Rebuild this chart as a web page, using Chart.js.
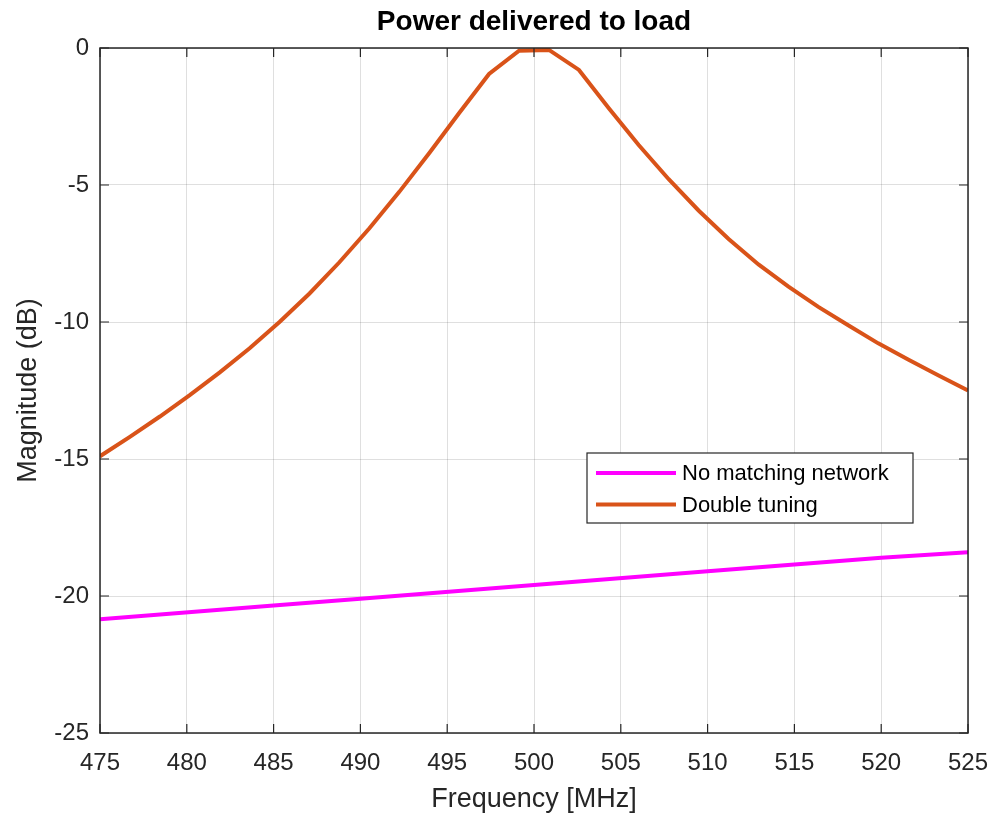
<!DOCTYPE html>
<html>
<head>
<meta charset="utf-8">
<script src="https://cdn.jsdelivr.net/npm/chart.js@4/dist/chart.umd.min.js"></script>
<style>
  html, body { margin: 0; padding: 0; background: #fff; }
  #wrap { width: 993px; height: 821px; }
</style>
</head>
<body>
<div id="wrap"><canvas id="grafico" width="993" height="821"></canvas></div>
<script>
// frequencias (MHz) amostradas na curva laranja
const freqs = [475.00, 476.72, 478.45, 480.17, 481.90, 483.62, 485.34, 487.07, 488.79, 490.52,
  492.24, 493.97, 495.69, 497.41, 499.14, 500.86, 502.59, 504.31, 506.03, 507.76,
  509.48, 511.21, 512.93, 514.66, 516.38, 518.10, 519.83, 521.55, 523.28, 525.00]
const duplaSintonia = [-14.9, -14.19, -13.45, -12.67, -11.84, -10.96, -10.0, -8.96, -7.82, -6.58,
  -5.25, -3.83, -2.37, -0.95, -0.1, -0.07, -0.8, -2.2, -3.54, -4.79,
  -5.93, -6.97, -7.9, -8.71, -9.45, -10.12, -10.78, -11.37, -11.94, -12.5]

// curva sem rede de casamento (quase reta)
const freqsSemRede = [475, 485, 490, 500, 510, 520, 525]
const semRede = [-20.85, -20.35, -20.1, -19.6, -19.1, -18.6, -18.4]

const ticksX = [475, 480, 485, 490, 495, 500, 505, 510, 515, 520, 525]
const ticksY = [-25, -20, -15, -10, -5, 0]

const legendas = ['No matching network', 'Double tuning']
const titulo = 'Power delivered to load'
const tituloX = 'Frequency [MHz]'
const tituloY = 'Magnitude (dB)'

const fonte = "'Liberation Sans', Arial, Helvetica, sans-serif"
const corEixo = '#262626'

function pares(xs, ys) {
  return xs.map((x, i) => ({ x: x, y: ys[i] }))
}

// titulo centrado no eixo, caixa, marcas internas e legenda no estilo do MATLAB
const caixaPlugin = {
  id: 'caixa',
  afterDraw(chart) {
    const ctx = chart.ctx
    const a = chart.chartArea
    const sx = chart.scales.x
    const sy = chart.scales.y
    ctx.save()

    ctx.fillStyle = '#000'
    ctx.font = 'bold 28px ' + fonte
    ctx.textAlign = 'center'
    ctx.textBaseline = 'middle'
    ctx.fillText(titulo, (a.left + a.right) / 2, a.top - 26)

    ctx.strokeStyle = corEixo
    ctx.lineWidth = 1.5
    ctx.strokeRect(a.left, a.top, a.right - a.left, a.bottom - a.top)
    ctx.lineWidth = 1.2
    ctx.beginPath()
    ticksX.forEach(v => {
      const px = sx.getPixelForValue(v)
      ctx.moveTo(px, a.bottom); ctx.lineTo(px, a.bottom - 9)
      ctx.moveTo(px, a.top); ctx.lineTo(px, a.top + 9)
    })
    ticksY.forEach(v => {
      const py = sy.getPixelForValue(v)
      ctx.moveTo(a.left, py); ctx.lineTo(a.left + 9, py)
      ctx.moveTo(a.right, py); ctx.lineTo(a.right - 9, py)
    })
    ctx.stroke()

    // legenda
    const lx = a.left + 487, ly = a.top + 405, lw = 326, lh = 70
    ctx.fillStyle = '#fff'
    ctx.fillRect(lx, ly, lw, lh)
    ctx.strokeStyle = corEixo
    ctx.lineWidth = 1.2
    ctx.strokeRect(lx, ly, lw, lh)
    ctx.font = '22px ' + fonte
    ctx.textBaseline = 'middle'
    ctx.textAlign = 'left'
    chart.data.datasets.forEach((ds, i) => {
      const yy = ly + 20 + i * 31.5
      ctx.strokeStyle = ds.borderColor
      ctx.lineWidth = 4
      ctx.beginPath()
      ctx.moveTo(lx + 9, yy); ctx.lineTo(lx + 89, yy)
      ctx.stroke()
      ctx.fillStyle = '#000'
      ctx.fillText(ds.label, lx + 95, yy + 1)
    })
    ctx.restore()
  }
}

var grafico = document.getElementById('grafico').getContext('2d')
var dados = {
  type: 'line',
  data: {
    datasets: [{
        label: legendas[0],
        data: pares(freqsSemRede, semRede),
        borderColor: '#FF00FF',
        backgroundColor: '#FF00FF',
        borderWidth: 4,
        pointRadius: 0,
        tension: 0
      },
      {
        label: legendas[1],
        data: pares(freqs, duplaSintonia),
        borderColor: '#D95319',
        backgroundColor: '#D95319',
        borderWidth: 4,
        pointRadius: 0,
        tension: 0
    }]
  },
  options: {
    responsive: false,
    animation: false,
    layout: { padding: { left: 0, right: 25, top: 48, bottom: 0 } },
    plugins: {
      legend: { display: false },
      tooltip: { enabled: false },
      title: { display: false }
    },
    scales: {
      x: {
        type: 'linear',
        min: 475,
        max: 525,
        afterFit: (s) => { s.height = 88; s.paddingLeft = 0; s.paddingRight = 0 },
        afterBuildTicks: (s) => { s.ticks = ticksX.map(v => ({ value: v })) },
        grid: { color: 'rgba(38,38,38,0.15)', lineWidth: 1, drawTicks: false },
        border: { display: false },
        ticks: {
          color: corEixo,
          font: { family: fonte, size: 24 },
          padding: 16,
          maxRotation: 0,
          autoSkip: false
        },
        title: {
          display: true,
          text: tituloX,
          color: corEixo,
          font: { family: fonte, size: 27 },
          padding: { top: 0, bottom: 5 }
        }
      },
      y: {
        min: -25,
        max: 0,
        afterFit: (s) => { s.width = 100; s.paddingTop = 0; s.paddingBottom = 0 },
        afterBuildTicks: (s) => { s.ticks = ticksY.map(v => ({ value: v })) },
        grid: { color: 'rgba(38,38,38,0.15)', lineWidth: 1, drawTicks: false },
        border: { display: false },
        ticks: {
          color: corEixo,
          font: { family: fonte, size: 24 },
          padding: 11
        },
        title: {
          display: true,
          text: tituloY,
          color: corEixo,
          font: { family: fonte, size: 27 },
          padding: { top: 12, bottom: 0 }
        }
      }
    }
  },
  plugins: [caixaPlugin]
}
new Chart(grafico, dados)
</script>
</body>
</html>
